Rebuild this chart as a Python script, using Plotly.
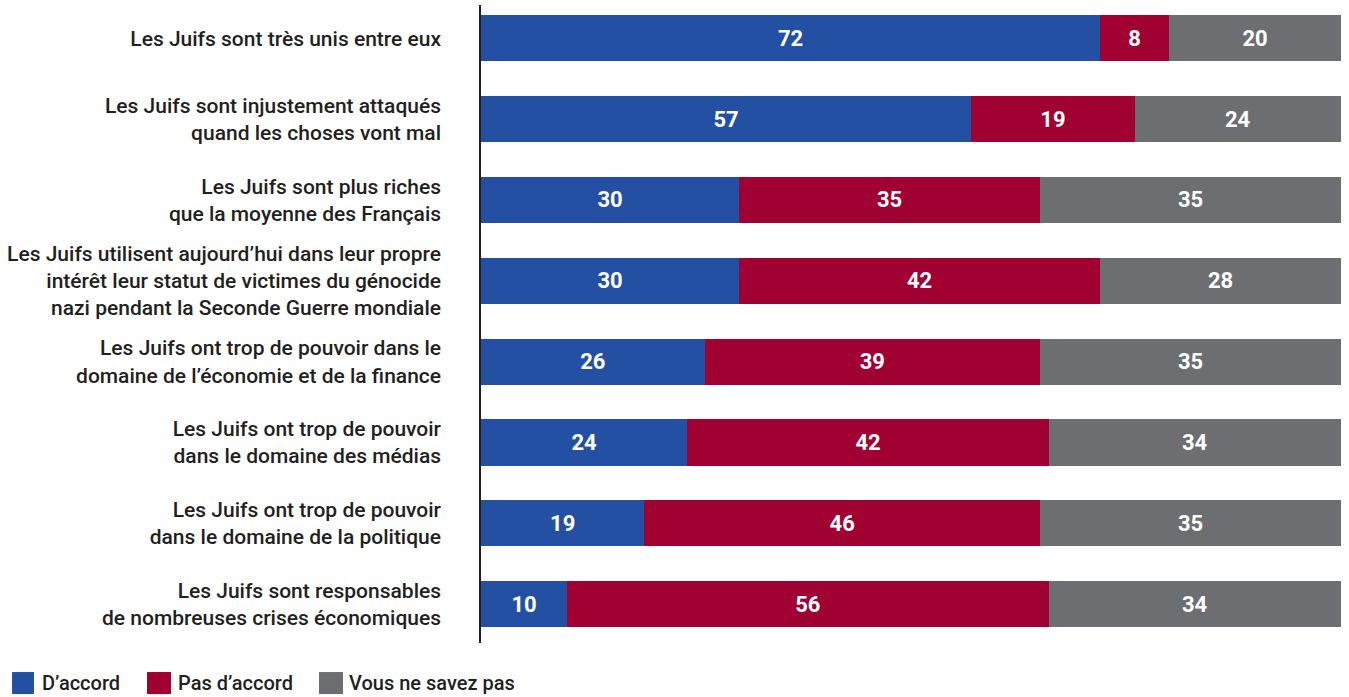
import plotly.graph_objects as go

statements = [
    "Les Juifs sont très unis entre eux",
    "Les Juifs sont injustement attaqués<br>quand les choses vont mal",
    "Les Juifs sont plus riches<br>que la moyenne des Français",
    "Les Juifs utilisent aujourd’hui dans leur propre<br>intérêt leur statut de victimes du génocide<br>nazi pendant la Seconde Guerre mondiale",
    "Les Juifs ont trop de pouvoir dans le<br>domaine de l’économie et de la finance",
    "Les Juifs ont trop de pouvoir<br>dans le domaine des médias",
    "Les Juifs ont trop de pouvoir<br>dans le domaine de la politique",
    "Les Juifs sont responsables<br>de nombreuses crises économiques",
]
d_accord = [72, 57, 30, 30, 26, 24, 19, 10]
pas_d_accord = [8, 19, 35, 42, 39, 42, 46, 56]
ne_savez_pas = [20, 24, 35, 28, 35, 34, 35, 34]

series = [
    ("D’accord", d_accord, "#2450a4"),
    ("Pas d’accord", pas_d_accord, "#a00032"),
    ("Vous ne savez pas", ne_savez_pas, "#6d6e71"),
]

FONT = "Roboto, Liberation Sans, sans-serif"
TXT = "#231f20"
pos = list(range(len(statements)))

fig = go.Figure()
for name, vals, color in series:
    fig.add_trace(go.Bar(
        y=pos, x=vals, name=name, orientation="h",
        marker=dict(color=color, line=dict(width=0)),
        text=[str(v) for v in vals], textposition="inside",
        insidetextanchor="middle",
        textfont=dict(color="white", size=22, family=FONT, weight="bold"),
        width=0.57, showlegend=False,
    ))

# legend drawn by hand: squares + labels below the plot
legend_x = [(-0.5453, -0.5198, 40), (-0.3884, -0.3605, 176), (-0.1884, -0.1605, 347)]
for (x0, x1, tx), (name, _, color) in zip(legend_x, series):
    fig.add_shape(type="rect", xref="paper", yref="paper", x0=x0, x1=x1,
                  y0=-0.0455, y1=-0.0800, fillcolor=color, line=dict(width=0))
    fig.add_annotation(xref="paper", yref="paper", x=(tx - 481) / 860, y=-0.0628,
                       text=name, showarrow=False, xanchor="left", yanchor="middle",
                       font=dict(size=20, family=FONT, color=TXT, weight=500))

fig.update_layout(
    barmode="stack",
    width=1349, height=697,
    margin=dict(l=481, r=8, t=5, b=54),
    plot_bgcolor="white", paper_bgcolor="white",
    font=dict(family=FONT, color=TXT, size=21),
    uniformtext=dict(minsize=10, mode="show"),
    showlegend=False,
)
fig.update_xaxes(range=[0, 100], visible=False, fixedrange=True)
fig.update_yaxes(
    range=[7.48, -0.41], tickmode="array", tickvals=pos, ticktext=statements,
    showgrid=False, zeroline=False, showline=True, linecolor=TXT,
    linewidth=1.5, ticks="", ticklabelstandoff=34, automargin=False,
    tickfont=dict(size=21, family=FONT, color=TXT, weight=500),
)

fig.write_html("out.html", config={"displayModeBar": False},
               post_script="document.body.style.margin='0';")
